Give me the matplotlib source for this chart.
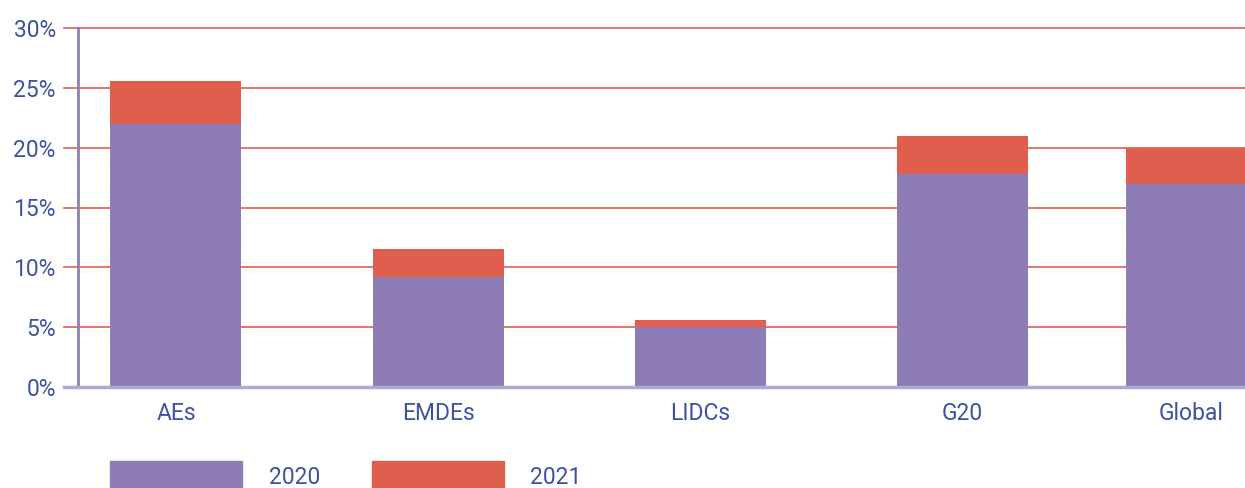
import numpy as np
import matplotlib.pyplot as plt
from matplotlib.patches import Rectangle

plt.rcParams['font.family'] = ['Roboto', 'DejaVu Sans']

# data (percent)
groups = ['AEs', 'EMDEs', 'LIDCs', 'G20', 'Global']
v2020 = [22.0, 9.2, 5.0, 17.8, 17.0]
v2021 = [3.6, 2.3, 0.6, 3.2, 3.0]
yticks = [0, 5, 10, 15, 20, 25, 30]

purple = '#8e7cb7'
red = '#e05e4e'
txt = '#3f52a0'

pos = np.array([0, 1, 2, 3, 3.874])

fig = plt.figure(figsize=(12.45, 4.88), dpi=100)
ax = fig.add_axes([78/1245, 101/488, 1 - 78/1245, 359/488])

ax.bar(pos, v2020, width=0.5, color=purple, zorder=3)
ax.bar(pos, v2021, width=0.5, bottom=v2020, color=red, zorder=3)

# gridlines, extending a little left of the axis like ticks
for y in yticks[1:]:
    ax.axhline(y, xmin=-14/1167, xmax=1, color=red, lw=1.2, clip_on=False, zorder=1)
ax.axhline(0, xmin=-14/1167, xmax=1, color='#b3a8d4', lw=2.5, clip_on=False, zorder=4)

ax.set_xlim(-0.374, 4.080)
ax.set_ylim(0, 30)
ax.set_yticks(yticks)
ax.set_yticklabels([f'{t}%' for t in yticks])
ax.set_xticks(pos)
ax.set_xticklabels(groups)
ax.tick_params(axis='y', length=0, pad=16, labelsize=16.5, labelcolor=txt)
ax.tick_params(axis='x', length=0, pad=11, labelsize=16.5, labelcolor=txt)

for s in ['top', 'right', 'bottom']:
    ax.spines[s].set_visible(False)
ax.spines['left'].set_color(purple)
ax.spines['left'].set_linewidth(2)

# legend drawn at the bottom
W, H = 1245, 488
fig.add_artist(Rectangle((110/W, 0), 132/W, 27/H, transform=fig.transFigure, color=purple))
fig.text(269/W, 11/H, '2020', fontsize=16.5, color=txt, va='center')
fig.add_artist(Rectangle((372/W, 0), 132/W, 27/H, transform=fig.transFigure, color=red))
fig.text(530/W, 11/H, '2021', fontsize=16.5, color=txt, va='center')

fig.savefig('out.png', dpi=100)
